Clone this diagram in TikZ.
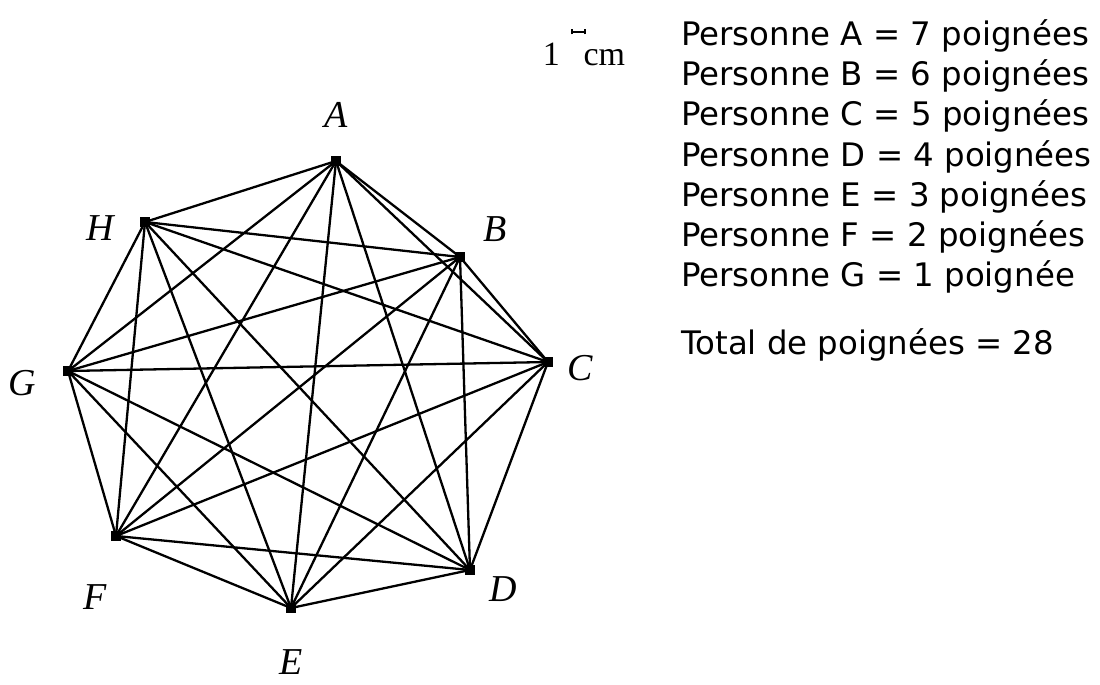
\documentclass[tikz,border=0pt]{standalone}
\usepackage{fontspec}
\setmainfont{Liberation Serif}
\newfontfamily\txtfont{DejaVu Sans}
\begin{document}
\begin{tikzpicture}[x=1pt,y=-1pt,
  vtx/.style={fill=black,inner sep=0pt,minimum size=10pt,rectangle},
  lbl/.style={font=\fontsize{38}{42}\selectfont\itshape,inner sep=0pt},
  edge/.style={line width=2.3pt},
  info/.style={font=\txtfont\fontsize{32.4}{38}\selectfont,anchor=west,inner sep=0pt}]
\useasboundingbox (0,0) rectangle (1100,685);
\node[vtx] (A) at (336,161) {};
\node[vtx] (B) at (460,257) {};
\node[vtx] (C) at (548,362) {};
\node[vtx] (D) at (470,570) {};
\node[vtx] (E) at (291,608) {};
\node[vtx] (F) at (116,536) {};
\node[vtx] (G) at (68,371) {};
\node[vtx] (H) at (145,222) {};
\foreach \a/\b in {A/B,A/C,A/D,A/E,A/F,A/G,A/H,B/C,B/D,B/E,B/F,B/G,B/H,C/D,C/E,C/F,C/G,C/H,D/E,D/F,D/G,D/H,E/F,E/G,E/H,F/G,F/H,G/H}
  \draw[edge] (\a.center) -- (\b.center);
\node[lbl] (lA) at (336,115) {A};
\node[lbl] (lB) at (495,229) {B};
\node[lbl] (lC) at (580,368) {C};
\node[lbl] (lD) at (503,589) {D};
\node[lbl] (lE) at (291,662) {E};
\node[lbl] (lF) at (95,597) {F};
\node[lbl] (lG) at (22,383) {G};
\node[lbl] (lH) at (100,228) {H};
% scale bar
\coordinate (s1) at (572,32);
\coordinate (s2) at (585,32);
\draw[line width=1.6pt] (s1) -- (s2);
\draw[line width=1.3pt] ([yshift=-2.5]s1) -- ([yshift=2.5]s1);
\draw[line width=1.3pt] ([yshift=-2.5]s2) -- ([yshift=2.5]s2);
\node[font=\fontsize{34}{38}\selectfont,inner sep=0pt] (cm) at (584,54) {1\hspace{0.7em}cm};
\node[info] (p1) at (681,36) {Personne A = 7 poignées};
\node[info] (p2) at (681,76) {Personne B = 6 poignées};
\node[info] (p3) at (681,116) {Personne C = 5 poignées};
\node[info] (p4) at (681,157) {Personne D = 4 poignées};
\node[info] (p5) at (681,197) {Personne E = 3 poignées};
\node[info] (p6) at (681,237) {Personne F = 2 poignées};
\node[info] (p7) at (681,277) {Personne G = 1 poignée};
\node[info] (tot) at (681,345) {Total de poignées = 28};
\end{tikzpicture}
\end{document}
